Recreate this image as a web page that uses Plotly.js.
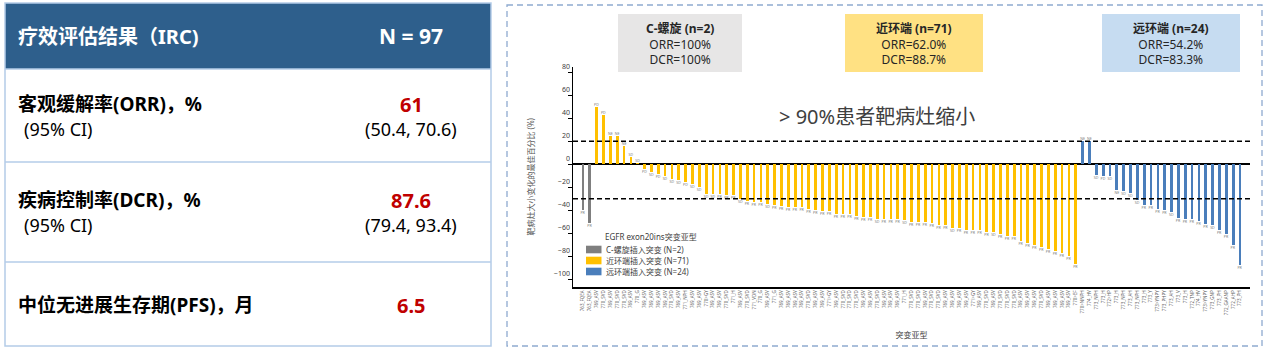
<!DOCTYPE html>
<html><head><meta charset="utf-8">
<script src="https://cdn.plot.ly/plotly-3.0.1.min.js"></script>
<style>html,body{margin:0;padding:0;background:#fff}#chart{width:1269px;height:351px}</style>
</head><body><div id="chart"></div>
<script>
// ---------- data ----------
const grayValues = [-40, -51];
const grayResp = ['PR', 'PR'];
const grayTicks = ['763_FQEA', '763_FQEA'];

const yellowValues = [50, 43, 25, 25, 16, 6.5, 1,
  -4, -6.5, -8.5, -10.5, -13, -14, -15.5, -17, -20, -26, -26, -26, -26.5, -27, -30.5,
  -32, -33, -33, -34.5, -35, -36, -37, -37, -37, -39, -39.5, -41, -41, -43, -43, -43,
  -45, -46, -46, -47.5, -47.5, -47.5, -48, -48.5, -50, -50, -50, -51.5, -52.5, -53,
  -55, -55, -57, -57.5, -57.5, -58.5, -59, -61, -62, -62.5, -67, -68.5, -70.5, -72,
  -74, -75, -77.5, -79.5, -86.5];
const yellowResp = ['PD', 'PD', 'NE', 'NE', 'NE', 'SD', 'SD',
  'PD', 'SD', 'PD', 'SD', 'SD', 'SD', 'PD', 'SD', 'SD', 'SD', 'SD', 'PR', 'PR', 'PR', 'SD',
  'PR', 'PR', 'PR', 'SD', 'PR', 'PR', 'PR', 'PR', 'PR', 'PR', 'PR', 'PR', 'PR', 'PR', 'PR', 'PR',
  'PR', 'PR', 'PR', 'SD', 'PR', 'PR', 'PR', 'SD', 'PR', 'PR', 'PR', 'PR', 'PR', 'PR',
  'SD', 'PR', 'PR', 'PR', 'PR', 'PR', 'SD', 'PR', 'PR', 'PR', 'PR', 'PR', 'PR', 'PR',
  'PR', 'PR', 'PR', 'PR', 'PR'];
const yellowTicks = [
  '769_ASV', '770_SVD', '769_ASV', '770_SVD', '770_SVD', '769_ASV', '770_G', '769_ASV', '769_ASV', '769_ASV',
  '769_ASV', '770_SVD', '769_ASV', '771_NPH', '769_ASV', '769_ASV', '770>GY', '769_ASV', '769_ASV', '770_SVD',
  '771_H', '769_ASV', '770_SVD', '771_VDN', '770_G', '769_ASV', '771_G', '769_ASV', '769_ASV', '769_ASV',
  '769_ASV', '770_SVD', '769_ASV', '769_ASV', '771>GY', '769_ASV', '770_SVD', '770_SVD', '770_SVD', '769_ASV',
  '769_ASV', '770_SVD', '769_ASV', '769_ASV', '769_ASV', '771_H', '770_SVD', '770_SVD', '769_ASV', '770_SVD',
  '770_SVD', '769_ASV', '769_ASV', '769_ASV', '769_ASV', '771>GY', '769_ASV', '770_SVD', '769_ASV', '770_SVD',
  '770_SVD', '770_SVD', '769_ASV', '769_ASV', '769_ASV', '770_SVD', '769_ASV', '769_ASV', '769_ASV', '769_ASV', '770>EF'];

const blueValues = [20, 20, -9, -10.5, -10.5, -22, -23.5, -25, -31, -35, -35, -38.5,
  -40, -41.5, -46.5, -48, -48, -49, -52, -52.5, -57.5, -61, -70.5, -88];
const blueResp = ['NE', 'NE', 'SD', 'PD', 'SD', 'NE', 'SD', 'SD', 'SD', 'PR', 'PR', 'PR',
  'PR', 'SD', 'PR', 'PR', 'PR', 'PR', 'PR', 'SD', 'PR', 'PR', 'PR', 'PR'];
const blueTicks = ['770>NNPH', '774_HV', '773_NPH', '773_H', '772>HP', '773_H', '773_NPH', '773_AH',
  '773_NPH', '773_H', '773_Y', '773>YNPY', '773_PHPY', '773_AH', '773_V', '773_H', '772_TNP', '774_HV',
  '773>YNPY', '773_GNP', '773_PH', '772_GAANP', '772_AHP', '773_PH'];

const legendNames = ['C-螺旋插入突变 (N=2)', '近环端插入突变 (N=71)', '远环端插入突变 (N=24)'];
const legendTitle = 'EGFR exon20ins突变亚型';
const thresholds = [20, -30];
const yTicks = [-100, -80, -60, -40, -20, 0, 20, 40, 60, 80];

const groupTitles = ['C-螺旋 (n=2)', '近环端 (n=71)', '远环端 (n=24)'];
const groupORR = ['ORR=100%', 'ORR=62.0%', 'ORR=54.2%'];
const groupDCR = ['DCR=100%', 'DCR=88.7%', 'DCR=83.3%'];
const headline = '> 90%患者靶病灶缩小';

const tableHeader = ['疗效评估结果（IRC)', 'N = 97'];
const tableMetrics = ['客观缓解率(ORR)，%', '疾病控制率(DCR)，%', '中位无进展生存期(PFS)，月'];
const tableCILabel = ['(95% CI)', '(95% CI)', ''];
const tableValues = ['61', '87.6', '6.5'];
const tableCI = ['(50.4, 70.6)', '(79.4, 93.4)', ''];

// ---------- styles ----------
const colors = ['#7f7f7f', '#ffc000', '#4a7ebb'];
const FONT = "'Noto Sans', 'Noto Sans CJK SC', sans-serif";
const W = 1269, H = 351;

const groups = [
  {v: grayValues, r: grayResp, t: grayTicks},
  {v: yellowValues, r: yellowResp, t: yellowTicks},
  {v: blueValues, r: blueResp, t: blueTicks}
];
let start = 0;
const traces = [];
const tickVals = [], tickText = [];
groups.forEach((g, k) => {
  const xs = g.v.map((_, j) => start + j);
  xs.forEach((x, j) => { tickVals.push(x); tickText.push(g.t[j] || ''); });
  traces.push({
    type: 'bar', x: xs, y: g.v, name: legendNames[k],
    marker: {color: colors[k]}, width: 0.4,
    text: g.r, textposition: 'outside', constraintext: 'none', cliponaxis: false,
    textfont: {size: 3.6, color: '#808080', family: FONT},
    showlegend: false, hoverinfo: 'skip', xaxis: 'x', yaxis: 'y'
  });
  start += g.v.length;
});
traces.push({type: 'scatter', x: [], y: [], xaxis: 'x2', yaxis: 'y2', showlegend: false, hoverinfo: 'skip'});

const shapes = [];
const annotations = [];
const px = (x0, y0, x1, y1, extra) => Object.assign({type: 'rect', xref: 'x2', yref: 'y2', x0, y0, x1, y1, layer: 'below'}, extra);

// table
const tblBorder = '#b4cce8';
shapes.push(px(5, 3, 491, 69, {fillcolor: '#2e5f8c', line: {width: 0}}));
shapes.push(px(5, 3, 491, 346, {fillcolor: 'rgba(0,0,0,0)', line: {color: tblBorder, width: 1.5}}));
[69, 162, 262].forEach(y => shapes.push({type: 'line', xref: 'x2', yref: 'y2', x0: 5, x1: 491, y0: y, y1: y, line: {color: tblBorder, width: 1.5}}));
annotations.push({xref: 'x2', yref: 'y2', x: 16, y: 36, xanchor: 'left', yanchor: 'middle', showarrow: false,
  text: '<b>' + tableHeader[0] + '</b>', font: {family: FONT, size: 20, color: '#ffffff'}});
annotations.push({xref: 'x2', yref: 'y2', x: 411, y: 36, xanchor: 'center', yanchor: 'middle', showarrow: false,
  text: '<b>' + tableHeader[1] + '</b>', font: {family: FONT, size: 21, color: '#ffffff'}});
const rowMain = [104, 200, 305], rowCI = [129, 225, 0];
tableMetrics.forEach((m, k) => {
  annotations.push({xref: 'x2', yref: 'y2', x: 16, y: rowMain[k], xanchor: 'left', yanchor: 'middle', showarrow: false,
    text: '<b>' + m + '</b>', font: {family: FONT, size: 19, color: '#000000'}});
  annotations.push({xref: 'x2', yref: 'y2', x: 411, y: rowMain[k], xanchor: 'center', yanchor: 'middle', showarrow: false,
    text: '<b>' + tableValues[k] + '</b>', font: {family: FONT, size: 20, color: '#c00000'}});
  if (tableCILabel[k]) {
    annotations.push({xref: 'x2', yref: 'y2', x: 22, y: rowCI[k], xanchor: 'left', yanchor: 'middle', showarrow: false,
      text: tableCILabel[k], font: {family: FONT, size: 18, color: '#000000'}});
    annotations.push({xref: 'x2', yref: 'y2', x: 411, y: rowCI[k], xanchor: 'center', yanchor: 'middle', showarrow: false,
      text: tableCI[k], font: {family: FONT, size: 18, color: '#000000'}});
  }
});

// right panel dashed frame
shapes.push(px(507, 5, 1262, 346, {fillcolor: 'rgba(0,0,0,0)', line: {color: '#8eaad0', width: 1.3, dash: '6px,4px'}}));

// subgroup boxes
const boxX = [[618, 742], [845, 983], [1102, 1240]];
const boxFill = ['#e7e6e6', '#ffe183', '#c6dcf1'];
groupTitles.forEach((t, k) => {
  shapes.push(px(boxX[k][0], 14, boxX[k][1], 72, {fillcolor: boxFill[k], line: {width: 0}}));
  annotations.push({xref: 'x2', yref: 'y2', x: (boxX[k][0] + boxX[k][1]) / 2, y: 44, xanchor: 'center', yanchor: 'middle',
    showarrow: false, align: 'center',
    text: '<b>' + t + '</b><br>' + groupORR[k] + '<br>' + groupDCR[k],
    font: {family: FONT, size: 12, color: '#262626'}});
});
annotations.push({xref: 'x2', yref: 'y2', x: 877, y: 116, xanchor: 'center', yanchor: 'middle', showarrow: false,
  text: headline, font: {family: FONT, size: 20, color: '#404040'}});

// manual legend
annotations.push({xref: 'x2', yref: 'y2', x: 603, y: 236, xanchor: 'left', yanchor: 'middle', showarrow: false,
  text: legendTitle, font: {family: FONT, size: 8, color: '#404040'}});
legendNames.forEach((n, k) => {
  const yc = 249.5 + k * 11;
  shapes.push(px(586, yc - 3.8, 601.5, yc + 3.8, {fillcolor: colors[k], line: {width: 0}, layer: 'above'}));
  annotations.push({xref: 'x2', yref: 'y2', x: 604, y: yc, xanchor: 'left', yanchor: 'middle', showarrow: false,
    text: n, font: {family: FONT, size: 8, color: '#404040'}});
});

// threshold lines
thresholds.forEach(t => shapes.push({type: 'line', xref: 'x domain', yref: 'y', x0: 0, x1: 1, y0: t, y1: t,
  line: {color: '#000000', width: 1.5, dash: '5px,3px'}, layer: 'above'}));

const layout = {
  width: W, height: H,
  margin: {l: 0, r: 0, t: 0, b: 0, pad: 0},
  paper_bgcolor: '#ffffff', plot_bgcolor: 'rgba(0,0,0,0)',
  showlegend: false, bargap: 0,
  font: {family: FONT},
  xaxis: {
    domain: [573 / W, 1250 / W], range: [-1.46, 97.46], anchor: 'y',
    showline: true, linecolor: '#000000', linewidth: 2, showgrid: false, zeroline: false,
    tickmode: 'array', tickvals: tickVals, ticktext: tickText, tickangle: -90, ticks: '',
    tickfont: {size: 4.5, color: '#606060', family: FONT}, automargin: false,
    title: {text: '突变亚型', font: {size: 8, color: '#404040', family: FONT}, standoff: 18}
  },
  yaxis: {
    domain: [1 - 286.5 / H, 1 - 67 / H], range: [-106.3, 84.6], anchor: 'x',
    showline: true, linecolor: '#000000', linewidth: 1.5, showgrid: false,
    zeroline: true, zerolinecolor: '#000000', zerolinewidth: 2,
    tickmode: 'array', tickvals: yTicks, ticks: 'outside', ticklen: 4, tickwidth: 1.2, tickcolor: '#000000',
    ticklabelposition: 'outside top',
    tickfont: {size: 7, color: '#404040', family: FONT}, automargin: false,
    title: {text: '靶病灶大小变化的最佳百分比 (%)', font: {size: 8, color: '#595959', family: FONT}, standoff: 18}
  },
  xaxis2: {domain: [0, 1], range: [0, W], anchor: 'y2', visible: false, fixedrange: true},
  yaxis2: {domain: [0, 1], range: [H, 0], anchor: 'x2', visible: false, fixedrange: true},
  shapes, annotations
};
Plotly.newPlot('chart', traces, layout, {displayModeBar: false, staticPlot: true});
</script>
</body></html>
